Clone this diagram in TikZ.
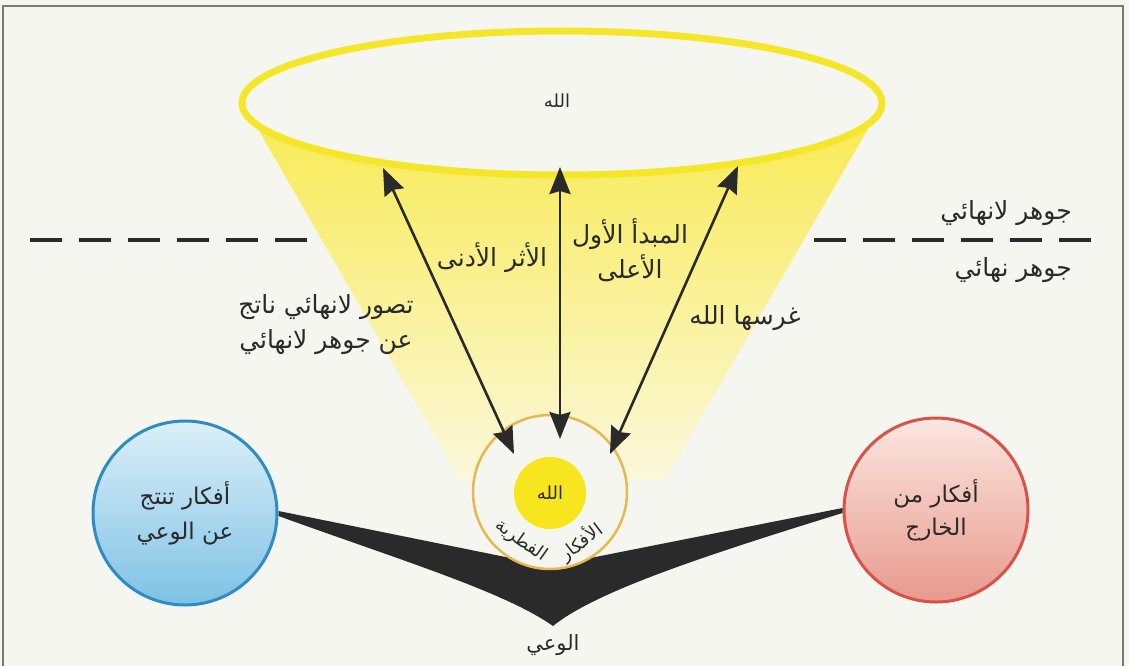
\documentclass[tikz,border=0pt]{standalone}
\usepackage{fontspec}
\usetikzlibrary{arrows.meta,shapes.geometric}
\TeXXeTstate=1
\newfontfamily\arabicfont[Script=Arabic]{DejaVu Sans}
\definecolor{Paper}{HTML}{F6F6F1}
\definecolor{Frame}{HTML}{7A7A76}
\definecolor{Sun}{HTML}{F7E51E}
\definecolor{Rim}{HTML}{F6E62A}
\definecolor{ConeTop}{HTML}{F8EA4E}
\definecolor{ConeBottom}{HTML}{FBF8DC}
\definecolor{Ring}{HTML}{E6B94E}
\definecolor{Ink}{HTML}{2A2A2A}
\definecolor{BlueLine}{HTML}{2F8CC2}
\definecolor{BlueTop}{HTML}{DCEFF8}
\definecolor{BlueBottom}{HTML}{7EC2E5}
\definecolor{RedLine}{HTML}{D85249}
\definecolor{RedTop}{HTML}{FBE7E0}
\definecolor{RedBottom}{HTML}{E8998D}
\newcommand{\artext}[1]{{\beginR #1\endR}}
\tikzset{
  note/.style={font=\arabicfont\fontsize{25}{35}\selectfont,text=Ink,align=center,inner sep=0pt},
  small note/.style={note,font=\arabicfont\fontsize{18}{22}\selectfont},
  twoway/.style={{Stealth[length=27pt,width=21pt,inset=3pt]}-{Stealth[length=27pt,width=21pt,inset=3pt]},line width=2.6pt,draw=Ink},
  idea/.style={circle,line width=3pt,minimum size=184pt,inner sep=0pt}
}

\begin{document}
\begin{tikzpicture}[x=1pt,y=-1pt]
    \useasboundingbox (0,0) rectangle (1129,666);
    \fill[Paper] (0,0) rectangle (1129,666);
    \draw[Frame,line width=1.5pt] (3,680) -- (3,6) -- (1123,6) -- (1123,680);

    % border between the two kinds of essence
    \draw[Ink,line width=4pt,dash pattern=on 32pt off 17pt] (30,240) -- (1100,240);

    % cone of light
    \shade[top color=ConeTop,bottom color=ConeBottom] (243,103) -- (883,103) -- (665,480) -- (460,480) -- cycle;
    \node[ellipse,draw=Rim,line width=7pt,fill=Paper,minimum width=640pt,minimum height=144pt,inner sep=0pt] (heaven) at (562,103) {};
    \node[small note] (godtop) at (557,101) {\artext{الله}};

    \node[idea,draw=BlueLine,top color=BlueTop,bottom color=BlueBottom] (inner) at (185,513) {};
    \node[idea,draw=RedLine,top color=RedTop,bottom color=RedBottom] (outer) at (936,510) {};

    % awareness
    \fill[Ink] ([yshift=2pt]inner.east) -- (550,566) -- ([yshift=2pt]outer.west) -- ([yshift=-3pt]outer.west)
        .. controls (700,557) and (595,592) .. (553,626)
        .. controls (505,592) and (400,560) .. ([yshift=-3pt]inner.east) -- cycle;
    \node[note,font=\arabicfont\fontsize{21}{24}\selectfont] (awareness) at (553,645) {\artext{الوعي}};

    \node[circle,draw=Ring,line width=2.5pt,fill=Paper,minimum size=154pt] (fitra) at (550,492) {};
    \node[circle,fill=Sun,minimum size=72pt,inner sep=0pt] (sun) at (550,493) {};
    \node[small note] (godsun) at (sun) {\artext{الله}};
    \node[note,font=\arabicfont\fontsize{18}{22}\selectfont,rotate=37] (word1) at (581,542) {\artext{الأفكار}};
    \node[note,font=\arabicfont\fontsize{18}{22}\selectfont,rotate=-35] (word2) at (521,541) {\artext{الفطرية}};

    \coordinate (lowL) at (514,454);
    \coordinate (highL) at (383,168);
    \coordinate (lowM) at (560,439);
    \coordinate (highM) at (560,167);
    \coordinate (lowR) at (610,454);
    \coordinate (highR) at (738,166);
    \draw[twoway] (lowL) -- (highL);
    \draw[twoway] (lowM) -- (highM);
    \draw[twoway] (lowR) -- (highR);

    \node[note] (nadir) at (492,258) {\artext{الأثر الأدنى}};
    \node[note] (origin) at (630,250) {\artext{المبدأ الأول}\\\artext{الأعلى}};
    \node[note] (planted) at (745,318) {\artext{غرسها الله}};
    \node[note] (concept) at (326,325) {\artext{تصور لانهائي ناتج}\\\artext{عن جوهر لانهائي}};
    \node[note,anchor=east] (infinite) at (1072,213) {\artext{جوهر لانهائي}};
    \node[note,anchor=east] (finite) at (1072,270) {\artext{جوهر نهائي}};

    \node[note,font=\arabicfont\fontsize{23}{35}\selectfont] (innertext) at (inner) {\artext{أفكار تنتج}\\\artext{عن الوعي}};
    \node[note,font=\arabicfont\fontsize{23}{33}\selectfont] (outertext) at (outer) {\artext{أفكار من}\\\artext{الخارج}};
\end{tikzpicture}
\end{document}
